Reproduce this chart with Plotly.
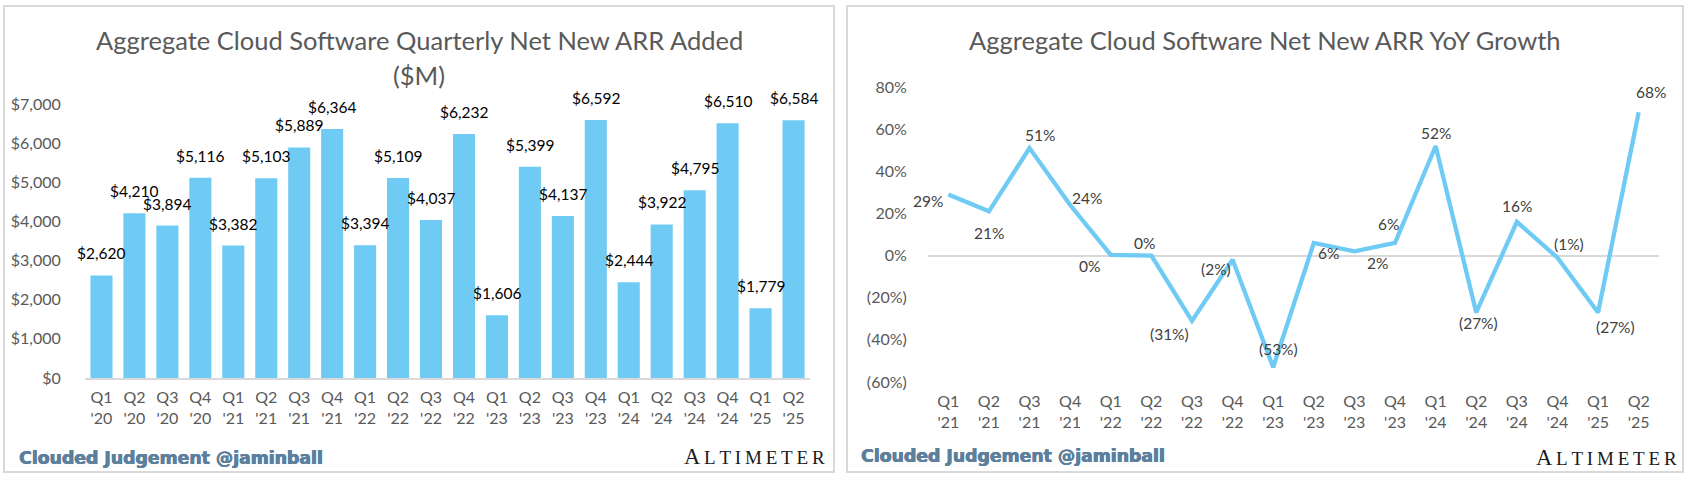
import plotly.graph_objects as go

W, H = 1686, 480

# ---------------- data ----------------
bar_quarters = ["Q1<br>'20", "Q2<br>'20", "Q3<br>'20", "Q4<br>'20",
                "Q1<br>'21", "Q2<br>'21", "Q3<br>'21", "Q4<br>'21",
                "Q1<br>'22", "Q2<br>'22", "Q3<br>'22", "Q4<br>'22",
                "Q1<br>'23", "Q2<br>'23", "Q3<br>'23", "Q4<br>'23",
                "Q1<br>'24", "Q2<br>'24", "Q3<br>'24", "Q4<br>'24",
                "Q1<br>'25", "Q2<br>'25"]
net_new_arr = [2620, 4210, 3894, 5116, 3382, 5103, 5889, 6364, 3394, 5109, 4037,
               6232, 1606, 5399, 4137, 6592, 2444, 3922, 4795, 6510, 1779, 6584]
bar_tickvals = [0, 1000, 2000, 3000, 4000, 5000, 6000, 7000]

line_quarters = ["Q1<br>'21", "Q2<br>'21", "Q3<br>'21", "Q4<br>'21",
                 "Q1<br>'22", "Q2<br>'22", "Q3<br>'22", "Q4<br>'22",
                 "Q1<br>'23", "Q2<br>'23", "Q3<br>'23", "Q4<br>'23",
                 "Q1<br>'24", "Q2<br>'24", "Q3<br>'24", "Q4<br>'24",
                 "Q1<br>'25", "Q2<br>'25"]
yoy_growth = [0.29, 0.21, 0.51, 0.24, 0.003, 0.0, -0.31, -0.02, -0.53, 0.06,
              0.02, 0.06, 0.52, -0.27, 0.16, -0.01, -0.27, 0.68]
line_tickvals = [-0.6, -0.4, -0.2, 0.0, 0.2, 0.4, 0.6, 0.8]
line_ticktext = ["(60%)", "(40%)", "(20%)", "0%", "20%", "40%", "60%", "80%"]

# label offsets (pixels) for the line labels – style only
line_label_shift = [(-20, -7), (0, -22), (10, 13), (17, 7), (-21, -11), (-7, 13),
                    (-22, -13), (-17, -9), (5, 18), (15, -10), (23, -12), (-7, 19),
                    (0, 13), (2, -11), (0, 16), (12, 14), (17, -15), (12, 20)]

# ---------------- style ----------------
BLUE = "#70CBF4"
GRAY_TXT = "#595959"
AXIS_GRAY = "#D9D9D9"
FONT = "Lato"
FOOT = "#5B7F9C"


def px(x):
    return x / W


def py(y):
    return 1 - y / H


def pct(v):
    r = round(v * 100)
    return f"({abs(r)}%)" if r < 0 else f"{r}%"


fig = go.Figure()

fig.add_trace(go.Bar(
    x=bar_quarters, y=net_new_arr, marker_color=BLUE, width=0.67,
    xaxis="x", yaxis="y", hoverinfo="skip"))

fig.add_trace(go.Scatter(
    x=line_quarters, y=yoy_growth, mode="lines",
    line=dict(color=BLUE, width=4.3), xaxis="x2", yaxis="y2",
    cliponaxis=False, hoverinfo="skip"))

annotations = []
# bar value labels
for q, v in zip(bar_quarters, net_new_arr):
    annotations.append(dict(
        x=q, y=v, xref="x", yref="y", text=f"${v:,}", showarrow=False,
        yshift=22, yanchor="middle", xanchor="center",
        font=dict(family=FONT, size=15.5, color="#000000")))
# line value labels
for q, v, (dx, dy) in zip(line_quarters, yoy_growth, line_label_shift):
    annotations.append(dict(
        x=q, y=v, xref="x2", yref="y2", text=pct(v), showarrow=False,
        xshift=dx, yshift=dy, yanchor="middle", xanchor="center",
        font=dict(family=FONT, size=15.5, color="#404040")))

# titles
title_font = dict(family=FONT, size=25.5, color=GRAY_TXT)
annotations += [
    dict(x=px(419), y=py(40), xref="paper", yref="paper", showarrow=False,
         text="Aggregate Cloud Software Quarterly Net New ARR Added",
         font=title_font, xanchor="center", yanchor="middle"),
    dict(x=px(419), y=py(75), xref="paper", yref="paper", showarrow=False,
         text="($M)", font=title_font, xanchor="center", yanchor="middle"),
    dict(x=px(1265), y=py(40), xref="paper", yref="paper", showarrow=False,
         text="Aggregate Cloud Software Net New ARR YoY Growth",
         font=title_font, xanchor="center", yanchor="middle"),
]

# footers
TS = "\u2009"
alt = "A" + "<span style='font-size:19px'>" + TS + TS.join("LTIMETER") + "</span>"
for xl, xr, yf, ya in [(17, 827, 458, 456), (859, 1679, 456, 457)]:
    annotations.append(dict(
        x=px(xl), y=py(yf), xref="paper", yref="paper", showarrow=False,
        xanchor="left", yanchor="middle", text="<b>Clouded Judgement @jaminball</b>",
        font=dict(family="DejaVu Sans", size=17.3, color=FOOT,
                  shadow=f"0.6px 0 0 {FOOT}, -0.3px 0 0 {FOOT}")))
    annotations.append(dict(
        x=px(xr), y=py(ya), xref="paper", yref="paper", showarrow=False,
        xanchor="right", yanchor="middle", text=alt,
        font=dict(family="Liberation Serif", size=22.5, color="#1A1A1A")))

# panel borders
shapes = [
    dict(type="rect", xref="paper", yref="paper", x0=px(4), x1=px(834), y0=py(472), y1=py(6),
         line=dict(color=AXIS_GRAY, width=2), fillcolor="rgba(0,0,0,0)", layer="below"),
    dict(type="rect", xref="paper", yref="paper", x0=px(847), x1=px(1683), y0=py(472), y1=py(6),
         line=dict(color=AXIS_GRAY, width=2), fillcolor="rgba(0,0,0,0)", layer="below"),
]

tickfont = dict(family=FONT, size=16, color=GRAY_TXT)

fig.update_layout(
    template="none",
    width=W, height=H, margin=dict(l=0, r=0, t=0, b=0, pad=0, autoexpand=False),
    paper_bgcolor="white", plot_bgcolor="rgba(0,0,0,0)", showlegend=False,
    annotations=annotations, shapes=shapes,
    xaxis=dict(domain=[px(85), px(810)], anchor="y", type="category", automargin=False,
               range=[-0.5, len(bar_quarters) - 0.5], showgrid=False, zeroline=False,
               showline=True, linecolor=AXIS_GRAY, linewidth=2,
               ticks="outside", ticklen=4, tickcolor="rgba(0,0,0,0)",
               tickfont=tickfont, tickangle=0, fixedrange=True),
    yaxis=dict(domain=[py(378), py(104)], anchor="x", range=[0, 7000], automargin=False,
               tickvals=bar_tickvals, ticktext=[f"${v:,}" for v in bar_tickvals],
               showgrid=False, zeroline=False, showline=False,
               ticks="outside", ticklen=20, tickcolor="rgba(0,0,0,0)",
               tickfont=tickfont, fixedrange=True),
    xaxis2=dict(domain=[px(928), px(1659)], anchor="y2", type="category", automargin=False,
                range=[-0.5, len(line_quarters) - 0.5], showgrid=False, zeroline=False,
                showline=False, ticks="outside", ticklen=5,
                tickcolor="rgba(0,0,0,0)", tickfont=tickfont, tickangle=0, fixedrange=True),
    yaxis2=dict(domain=[py(382), py(87)], anchor="x2", range=[-0.6, 0.8], automargin=False,
                tickvals=line_tickvals, ticktext=line_ticktext,
                showgrid=False, zeroline=True, zerolinecolor=AXIS_GRAY, zerolinewidth=2,
                showline=False, ticks="outside", ticklen=17,
                tickcolor="rgba(0,0,0,0)", tickfont=tickfont, fixedrange=True),
)

fig.write_html("out.html", config={"displayModeBar": False},
               post_script="document.body.style.margin='0';document.body.style.overflow='hidden';")
